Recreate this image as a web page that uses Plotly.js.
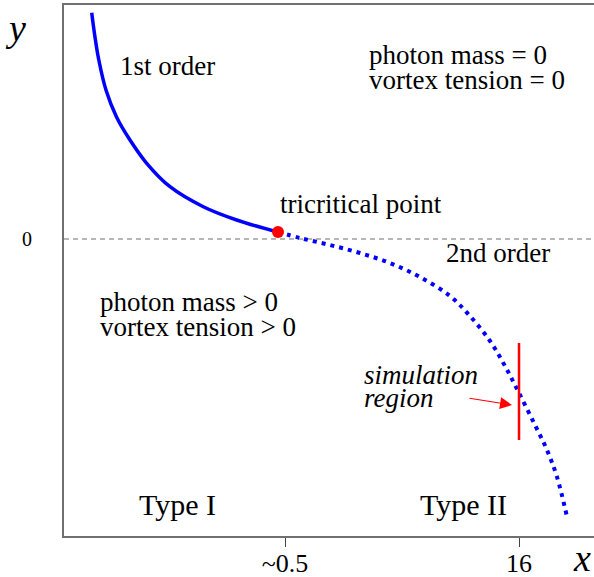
<!DOCTYPE html>
<html>
<head>
<meta charset="utf-8">
<script src="https://cdn.plot.ly/plotly-3.0.1.min.js"></script>
<style>
  html, body { margin: 0; padding: 0; background: #fff; }
  #chart { width: 594px; height: 577px; }
</style>
</head>
<body>
<div id="chart"></div>
<script>
// Schematic phase diagram: first-order line (solid) meets the
// second-order line (dotted) at the tricritical point.
const firstOrderX = [0.523, 0.579, 0.657, 0.792, 0.991, 1.245, 1.560, 2.000, 2.628, 3.258, 4.038];
const firstOrderY = [4.262, 3.842, 3.371, 2.806, 2.298, 1.864, 1.426, 0.985, 0.608, 0.358, 0.132];

const secondOrderX = [4.038, 4.453, 5.019, 5.585, 6.151, 6.717, 7.283, 7.660, 8.038, 8.321, 8.585, 8.887, 9.113, 9.302, 9.491];
const secondOrderY = [0.132, 0.019, -0.113, -0.264, -0.452, -0.716, -1.073, -1.450, -1.921, -2.392, -2.900, -3.503, -3.974, -4.482, -5.235];

const tricriticalX = [4.038];
const tricriticalY = [0.132];

// simulation window marker
const simX = [8.585, 8.585];
const simY = [-1.959, -3.785];

const xTickVals = [4.170, 8.585];
const xTickText = ['~0.5', '16'];
const yTickVals = [0];
const yTickText = ['0'];

const serif = "'Liberation Serif', 'Times New Roman', serif";
const black = '#000';

const traces = [
  {
    x: firstOrderX, y: firstOrderY, mode: 'lines', type: 'scatter',
    line: { color: '#0000ff', width: 3.5, shape: 'spline', smoothing: 1 }, hoverinfo: 'skip'
  },
  {
    x: secondOrderX, y: secondOrderY, mode: 'lines', type: 'scatter',
    line: { color: '#0000ff', width: 4, shape: 'spline', smoothing: 1, dash: '4px,5px' }, hoverinfo: 'skip'
  },
  {
    x: simX, y: simY, mode: 'lines', type: 'scatter',
    line: { color: '#ff0000', width: 2.5 }, hoverinfo: 'skip'
  },
  {
    x: tricriticalX, y: tricriticalY, mode: 'markers', type: 'scatter',
    marker: { color: '#ff0000', size: 12 }, hoverinfo: 'skip'
  }
];

function label(text, x, y, opts) {
  return Object.assign({
    text: text, x: x, y: y, xref: 'x', yref: 'y', showarrow: false,
    xanchor: 'left', yanchor: 'middle',
    font: { family: serif, size: 27, color: black }
  }, opts || {});
}

const typeFont = { family: serif, size: 30, color: black };

const annotations = [
  label('1st order', 1.962, 3.258, { xanchor: 'center' }),
  label('photon mass = 0', 5.717, 3.465),
  label('vortex tension = 0', 5.717, 2.994),
  label('tricritical point', 4.038, 0.659),
  label('2nd order', 7.170, -0.264),
  label('photon mass &gt; 0', 0.642, -1.186),
  label('vortex tension &gt; 0', 0.642, -1.657),
  label('<i>simulation</i>', 5.623, -2.561),
  label('<i>region</i>', 5.623, -2.994),
  label('Type I', 2.132, -5.009, { xanchor: 'center', font: typeFont }),
  label('Type II', 7.547, -5.009, { xanchor: 'center', font: typeFont }),
  // arrow pointing at the simulation window
  {
    x: 8.453, y: -3.126, ax: 7.623, ay: -2.994, xref: 'x', yref: 'y',
    axref: 'x', ayref: 'y', text: '', showarrow: true,
    arrowhead: 2, arrowsize: 2, arrowwidth: 1.2, arrowcolor: '#ff0000'
  },
  // axis letters
  {
    text: '<i>y</i>', xref: 'paper', yref: 'paper', x: -0.0906, y: 0.957,
    showarrow: false, xanchor: 'center', yanchor: 'middle',
    font: { family: serif, size: 38, color: black }
  },
  {
    text: '<i>x</i>', xref: 'paper', yref: 'paper', x: 0.977, y: -0.0414,
    showarrow: false, xanchor: 'center', yanchor: 'middle',
    font: { family: serif, size: 38, color: black }
  }
];

const layout = {
  width: 594, height: 577,
  margin: { l: 64, r: 0, t: 5, b: 41 },
  paper_bgcolor: '#fff', plot_bgcolor: '#fff',
  showlegend: false,
  xaxis: {
    range: [0, 10], showgrid: false, zeroline: false,
    showline: true, linecolor: '#707070', linewidth: 2, mirror: true,
    ticks: 'outside', ticklen: 9, tickwidth: 1, tickcolor: '#444',
    tickvals: xTickVals, ticktext: xTickText, ticklabelstandoff: -6,
    tickfont: { family: serif, size: 26, color: black }
  },
  yaxis: {
    range: [-5.593, 4.407], showgrid: false, zeroline: false,
    showline: true, linecolor: '#707070', linewidth: 2,
    ticks: '', tickvals: yTickVals, ticktext: yTickText, ticklabelstandoff: 26,
    tickfont: { family: serif, size: 20, color: black }
  },
  shapes: [
    {
      type: 'line', xref: 'paper', yref: 'y', x0: 0, x1: 1, y0: 0, y1: 0,
      line: { color: '#707070', width: 1.2, dash: '5px,4px' }, layer: 'below'
    }
  ],
  annotations: annotations
};

Plotly.newPlot('chart', traces, layout, { staticPlot: true, displayModeBar: false });
</script>
</body>
</html>
